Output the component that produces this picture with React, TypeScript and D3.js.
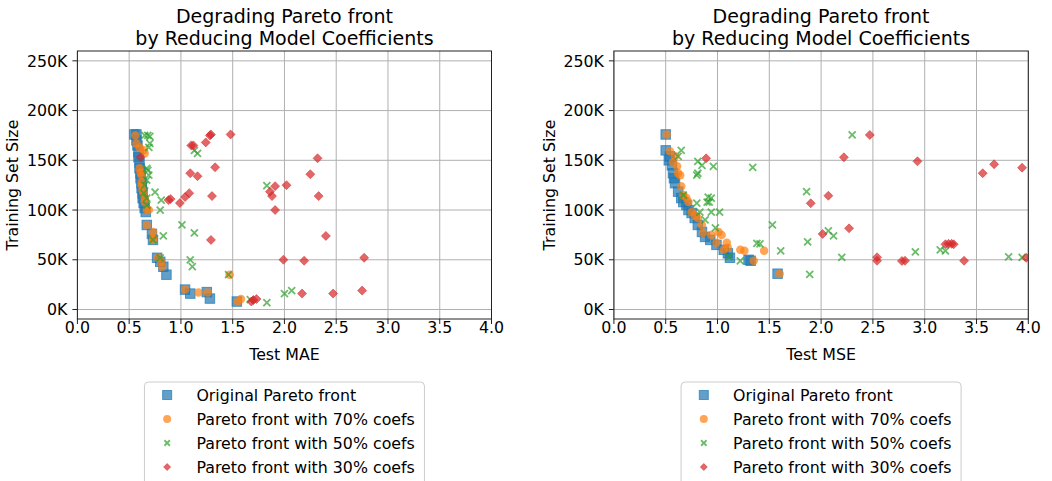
import React from "react";
import * as d3 from "d3";

// [test error, training set size in K]
const maeOriginal = [
  [0.55, 176], [0.57, 176], [0.57, 170], [0.58, 165], [0.59, 158], [0.59, 153], [0.6, 147],
  [0.6, 142], [0.61, 137], [0.61, 132], [0.62, 127], [0.62, 122], [0.63, 117], [0.63, 112],
  [0.64, 107], [0.65, 102], [0.66, 98], [0.67, 85], [0.72, 76], [0.73, 70], [0.77, 52],
  [0.8, 48], [0.83, 43], [0.86, 35], [1.04, 20], [1.09, 16], [1.25, 17.5], [1.28, 11], [1.54, 8],
];
const maeP70 = [
  [0.56, 175], [0.57, 167], [0.6, 163], [0.64, 160], [0.65, 157], [0.6, 142], [0.61, 138],
  [0.62, 135], [0.62, 128], [0.62, 125], [0.63, 120], [0.64, 117], [0.65, 112], [0.65, 108],
  [0.67, 100], [0.69, 100], [0.67, 85], [0.73, 78], [0.73, 72], [0.73, 70], [0.78, 52],
  [0.81, 48], [0.82, 43], [1.04, 20], [1.17, 17], [1.26, 17], [1.47, 35], [1.58, 10.5], [1.55, 8],
];
const maeP50 = [
  [0.65, 175], [0.68, 175], [0.7, 174], [0.7, 167], [0.69, 163], [1.13, 160], [1.16, 157],
  [0.67, 142], [0.68, 140], [0.69, 135], [0.67, 130], [0.65, 125], [0.64, 117], [0.67, 105],
  [0.75, 118], [0.81, 110], [0.8, 100], [0.67, 112], [1.01, 85], [1.13, 77], [0.83, 74],
  [0.73, 70], [1.09, 50], [1.11, 43], [0.8, 52], [1.46, 35], [1.67, 10], [1.83, 7], [2.0, 16],
  [2.07, 19], [1.83, 124.5],
];
const maeP30 = [
  [1.28, 175], [1.29, 176], [1.48, 176], [1.1, 165], [1.24, 168], [0.61, 153], [1.33, 143],
  [1.09, 137], [1.16, 134], [0.88, 110], [0.9, 111], [0.99, 107], [1.04, 113], [1.08, 117],
  [1.3, 114], [1.29, 70], [1.7, 9.5], [1.73, 10.5], [1.86, 118.5], [1.91, 124], [2.02, 125],
  [1.88, 114], [1.91, 100], [1.99, 50], [2.32, 152], [2.25, 136], [2.33, 114], [2.4, 74],
  [2.19, 49], [2.77, 52], [2.17, 16], [2.47, 16], [2.75, 19], [1.68, 8], [1.12, 165],
];

const mseOriginal = [
  [0.5, 176], [0.5, 160], [0.53, 150], [0.54, 154], [0.56, 145], [0.57, 137], [0.58, 132],
  [0.59, 127], [0.62, 118.5], [0.65, 112], [0.67, 108], [0.7, 105], [0.72, 100], [0.75, 97],
  [0.78, 92], [0.81, 85], [0.85, 78], [0.88, 73], [0.93, 70], [0.99, 65], [1.06, 60],
  [1.1, 56.5], [1.12, 52], [1.3, 50], [1.32, 49], [1.58, 36],
];
const mseP70 = [
  [0.51, 176], [0.54, 159], [0.59, 154], [0.61, 144], [0.62, 137], [0.64, 135], [0.65, 124],
  [0.67, 115], [0.72, 108], [0.75, 98], [0.81, 92], [0.85, 85], [0.86, 77], [0.94, 75],
  [1.01, 78], [1.04, 75], [0.99, 67], [1.09, 67], [1.06, 60], [1.22, 60], [1.26, 59],
  [1.45, 59], [1.35, 49], [1.6, 36], [0.57, 148], [0.7, 112], [0.78, 95], [1.1, 62],
];
const mseP50 = [
  [0.65, 160], [0.62, 154], [0.81, 149], [0.85, 145], [0.96, 144], [0.81, 137], [0.8, 135],
  [1.34, 143], [0.67, 115], [0.8, 107], [0.91, 113], [0.94, 112], [0.9, 108], [0.92, 108],
  [0.94, 98], [1.02, 98], [0.83, 98], [0.88, 90], [0.98, 82], [1.53, 85], [1.38, 66.5],
  [1.41, 66], [1.11, 53], [1.22, 49], [1.61, 59], [2.3, 175.5], [1.86, 118.5], [2.07, 79],
  [2.12, 74], [1.87, 68], [2.2, 52.5], [1.89, 35.4], [2.91, 58], [3.15, 60], [3.2, 59],
  [3.81, 53], [3.94, 52.5],
];
const mseP30 = [
  [0.89, 152], [2.47, 175.5], [2.22, 153], [2.93, 149], [3.56, 137], [3.67, 146], [3.94, 142.6],
  [2.07, 114.4], [1.9, 106.8], [2.27, 81.6], [2.015, 76], [2.54, 52.5], [2.54, 49], [2.78, 48.8],
  [2.81, 49], [3.2, 65.6], [3.23, 66], [3.26, 66], [3.28, 65.6], [3.38, 49], [3.98, 52],
];

const seriesNames = [
  "Original Pareto front",
  "Pareto front with 70% coefs",
  "Pareto front with 50% coefs",
  "Pareto front with 30% coefs",
];
const xTicks = [0, 0.5, 1, 1.5, 2, 2.5, 3, 3.5, 4];
const yTicks = [0, 50, 100, 150, 200, 250];
const titleLines = ["Degrading Pareto front", "by Reducing Model Coefficients"];

const colors = ["#1f77b4", "#ff7f0e", "#2ca02c", "#d62728"];
const shapes = ["square", "circle", "cross", "diamond"];
const font = "DejaVu Sans, sans-serif";

const Marker = ({ shape, color, x, y, s }) => {
  if (shape === "square")
    return <rect x={x - s / 2} y={y - s / 2} width={s} height={s} fill={color} fillOpacity={0.7} stroke={color} strokeOpacity={0.7} strokeWidth={1} />;
  if (shape === "circle") return <circle cx={x} cy={y} r={s / 2} fill={color} fillOpacity={0.7} />;
  if (shape === "cross") {
    const h = s / 2;
    return (
      <path d={`M${x - h},${y - h}L${x + h},${y + h}M${x - h},${y + h}L${x + h},${y - h}`} stroke={color} strokeOpacity={0.7} strokeWidth={1.8} />
    );
  }
  const h = s / 2;
  return <path d={`M${x},${y - h}L${x + h},${y}L${x},${y + h}L${x - h},${y}Z`} fill={color} fillOpacity={0.7} stroke={color} strokeOpacity={0.5} strokeWidth={1} />;
};

const sizes = [9.5, 8.5, 7, 9];

const Panel = ({ id, left, right, xLabel, series }) => {
  const top = 51, bottom = 319;
  const x = d3.scaleLinear().domain([0, 4]).range([left, right]);
  const y = d3.scaleLinear().domain([-9.55, 259.9]).range([bottom, top]);
  const cx = (left + right) / 2;
  const legendLeft = cx - 140;
  return (
    <g fontFamily={font} fill="#000">
      <defs>
        <clipPath id={id}>
          <rect x={left} y={top} width={right - left} height={bottom - top} />
        </clipPath>
      </defs>
      {xTicks.map((t) => (
        <line key={"gx" + t} x1={x(t)} x2={x(t)} y1={top} y2={bottom} stroke="#b0b0b0" strokeWidth={1} />
      ))}
      {yTicks.map((t) => (
        <line key={"gy" + t} x1={left} x2={right} y1={y(t)} y2={y(t)} stroke="#b0b0b0" strokeWidth={1} />
      ))}
      <g clipPath={`url(#${id})`}>
        {series.map((pts, si) =>
          pts.map((p, i) => (
            <Marker key={si + "-" + i} shape={shapes[si]} color={colors[si]} x={x(p[0])} y={y(p[1])} s={sizes[si]} />
          ))
        )}
      </g>
      <rect x={left} y={top} width={right - left} height={bottom - top} fill="none" stroke="#222" strokeWidth={1} />
      {xTicks.map((t) => (
        <g key={"tx" + t}>
          <line x1={x(t)} x2={x(t)} y1={bottom} y2={bottom + 5} stroke="#222" />
          <text x={x(t)} y={332.5} textAnchor="middle" fontSize={15.8}>{t.toFixed(1)}</text>
        </g>
      ))}
      {yTicks.map((t) => (
        <g key={"ty" + t}>
          <line x1={left - 5} x2={left} y1={y(t)} y2={y(t)} stroke="#222" />
          <text x={left - 10} y={y(t) + 5.7} textAnchor="end" fontSize={15.8}>{t}K</text>
        </g>
      ))}
      <text x={cx} y={360} textAnchor="middle" fontSize={15.8}>{xLabel}</text>
      <text transform={`translate(${left - 59.4},${(top + bottom) / 2}) rotate(-90)`} textAnchor="middle" fontSize={15.8}>
        Training Set Size
      </text>
      {titleLines.map((l, i) => (
        <text key={l} x={cx} y={22.5 + i * 22} textAnchor="middle" fontSize={19}>{l}</text>
      ))}
      <rect x={legendLeft} y={382} width={280} height={110} rx={4} fill="#fff" fillOpacity={0.8} stroke="#cccccc" strokeWidth={1} />
      {seriesNames.map((n, i) => (
        <g key={n}>
          <Marker shape={shapes[i]} color={colors[i]} x={legendLeft + 22.7} y={395 + i * 24} s={[9, 8, 5.5, 7][i]} />
          <text x={legendLeft + 52} y={395 + i * 24 + 5.7} fontSize={15.8}>{n}</text>
        </g>
      ))}
    </g>
  );
};

export default function App() {
  return (
    <svg width={1052} height={481} style={{ position: "absolute", left: 0, top: 0, background: "#fff" }}>
      <Panel id="clipMae" left={77.4} right={491.5} xLabel="Test MAE" series={[maeOriginal, maeP70, maeP50, maeP30]} />
      <Panel id="clipMse" left={613.9} right={1028.3} xLabel="Test MSE" series={[mseOriginal, mseP70, mseP50, mseP30]} />
    </svg>
  );
}
